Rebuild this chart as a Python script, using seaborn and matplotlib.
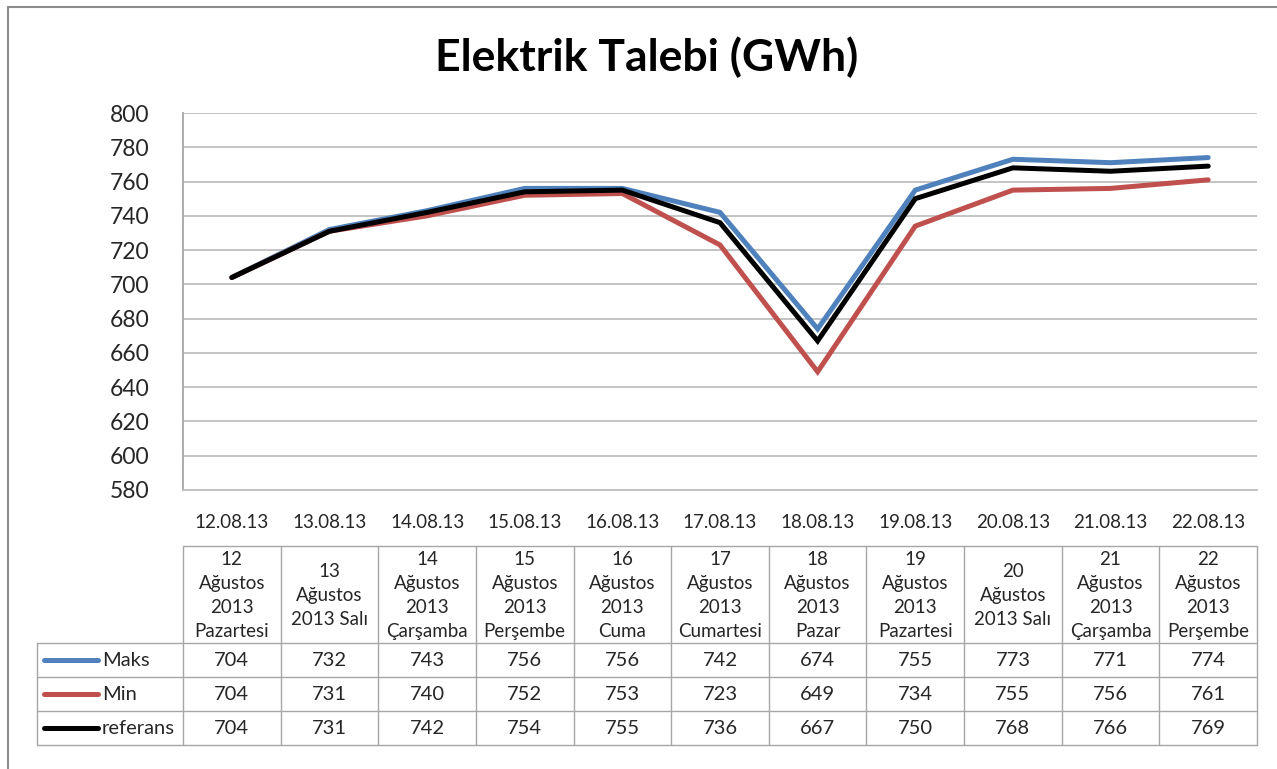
import matplotlib
matplotlib.use("Agg")
import matplotlib.pyplot as plt
import seaborn as sns
import pandas as pd
from matplotlib.lines import Line2D

# data
dates = ["12.08.13", "13.08.13", "14.08.13", "15.08.13", "16.08.13", "17.08.13",
         "18.08.13", "19.08.13", "20.08.13", "21.08.13", "22.08.13"]
day_labels = ["12\nAğustos\n2013\nPazartesi", "13\nAğustos\n2013 Salı", "14\nAğustos\n2013\nÇarşamba",
              "15\nAğustos\n2013\nPerşembe", "16\nAğustos\n2013\nCuma", "17\nAğustos\n2013\nCumartesi",
              "18\nAğustos\n2013\nPazar", "19\nAğustos\n2013\nPazartesi", "20\nAğustos\n2013 Salı",
              "21\nAğustos\n2013\nÇarşamba", "22\nAğustos\n2013\nPerşembe"]
maks = [704, 732, 743, 756, 756, 742, 674, 755, 773, 771, 774]
mins = [704, 731, 740, 752, 753, 723, 649, 734, 755, 756, 761]
referans = [704, 731, 742, 754, 755, 736, 667, 750, 768, 766, 769]
series_names = ["Maks", "Min", "referans"]
colors = ["#4F81BD", "#C0504D", "#000000"]

rows = []
for name, vals in zip(series_names, [maks, mins, referans]):
    for i, v in enumerate(vals):
        rows.append({"idx": i, "value": v, "series": name})
df = pd.DataFrame(rows)

sns.set_theme(style="white")
plt.rcParams["font.family"] = ["Lato", "DejaVu Sans"]

W, H = 1277, 769
fig = plt.figure(figsize=(W / 100, H / 100), dpi=100)

# plot area in pixels
px_left, px_right, px_top, px_bottom = 183, 1257, 113, 490
ax = fig.add_axes([px_left / W, 1 - px_bottom / H, (px_right - px_left) / W, (px_bottom - px_top) / H])

sns.lineplot(data=df, x="idx", y="value", hue="series", palette=colors,
             hue_order=series_names, linewidth=3.6, ax=ax, legend=False,
             sort=False, solid_joinstyle="miter")

n = len(dates)
ax.set_xlim(-0.5, n - 0.5)
ax.set_ylim(580, 800)
ax.set_yticks(range(580, 801, 20))
ax.set_xticks(range(n))
ax.set_xticklabels(dates, fontsize=13.5)
ax.tick_params(axis="y", labelsize=16.5, pad=24, length=0)
ax.tick_params(axis="x", pad=17, length=0)
ax.set_xlabel("")
ax.set_ylabel("")
ax.grid(axis="y", color="#BFBFBF", linewidth=1.3)
for s in ["top", "right"]:
    ax.spines[s].set_visible(False)
ax.spines["left"].set_color("#A6A6A6")
ax.spines["bottom"].set_color("#BFBFBF")
ax.spines["left"].set_linewidth(1.3)
ax.spines["bottom"].set_linewidth(1.3)

fig.text(647 / W, 1 - 57 / H, "Elektrik Talebi (GWh)", ha="center", va="center",
         fontsize=32, fontweight="bold", color="black")

# overlay axes in pixel units for the data table and frame
ov = fig.add_axes([0, 0, 1, 1], facecolor="none")
ov.set_xlim(0, W)
ov.set_ylim(H, 0)
ov.axis("off")

gray = "#A6A6A6"
col_w = (px_right - px_left) / n
tab_left = 37
head_top, head_bot = 546, 643
row_h = 34
n_rows = len(series_names)
tab_bot = head_bot + row_h * n_rows

# header block
ov.plot([px_left, px_right], [head_top, head_top], color=gray, lw=1)
for k in range(n + 1):
    x = px_left + k * col_w
    ov.plot([x, x], [head_top, tab_bot], color=gray, lw=1)
ov.plot([tab_left, tab_left], [head_bot, tab_bot], color=gray, lw=1)
for r in range(n_rows + 1):
    y = head_bot + r * row_h
    ov.plot([tab_left, px_right], [y, y], color=gray, lw=1)

for k, lab in enumerate(day_labels):
    ov.text(px_left + (k + 0.5) * col_w, (head_top + head_bot) / 2 + 1, lab,
            ha="center", va="center", fontsize=13.5, linespacing=1.5)

for r, (name, vals, c) in enumerate(zip(series_names, [maks, mins, referans], colors)):
    yc = head_bot + (r + 0.5) * row_h
    ov.add_line(Line2D([44, 98], [yc, yc], color=c, lw=3.6, solid_capstyle="round"))
    ov.text(102, yc, name, ha="left", va="center", fontsize=14.5)
    for k, v in enumerate(vals):
        ov.text(px_left + (k + 0.5) * col_w, yc, str(v), ha="center", va="center", fontsize=14.5)

# outer frame
ov.plot([8, 8], [7, H], color="#8C8C8C", lw=1.5)
ov.plot([8, W], [7, 7], color="#8C8C8C", lw=1.5)

fig.savefig("out.png", dpi=100)
